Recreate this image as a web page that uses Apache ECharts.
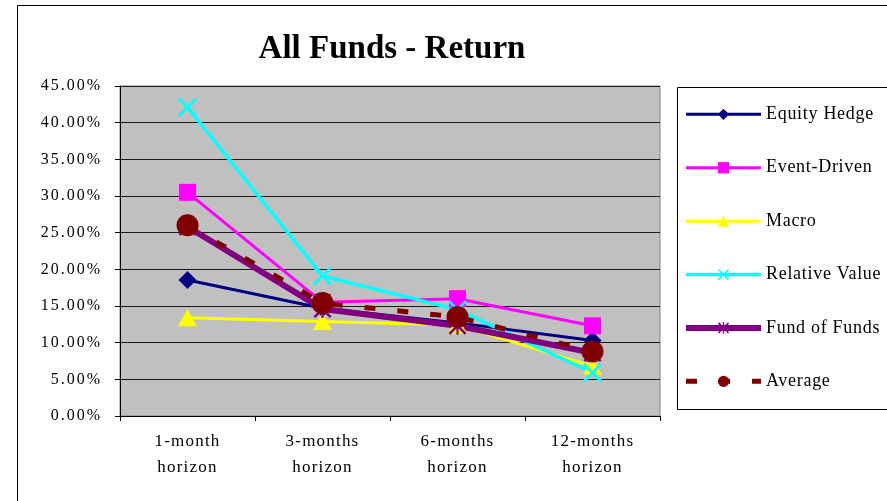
<!DOCTYPE html>
<html>
<head>
<meta charset="utf-8">
<script src="https://cdn.jsdelivr.net/npm/echarts@6/dist/echarts.min.js"></script>
<style>
  html, body { margin: 0; padding: 0; background: #fff; }
  #chart { width: 887px; height: 501px; }
</style>
</head>
<body>
<div id="chart"></div>
<script>
// Horizons on the x axis
const horizons = ['1-month\nhorizon', '3-months\nhorizon', '6-months\nhorizon', '12-months\nhorizon'];

// Returns in percent per horizon
const equityHedge   = [18.55, 14.7, 12.7, 10.3];
const eventDriven   = [30.5, 15.5, 16.0, 12.3];
const macro         = [13.4, 12.9, 12.4, 6.8];
const relativeValue = [42.1, 19.1, 14.5, 5.9];
const fundOfFunds   = [25.8, 14.6, 12.3, 8.6];
const average       = [26.0, 15.4, 13.5, 8.8];

// Y axis ticks (percent)
const yMin = 0, yMax = 45, yStep = 5;

// Wider tracking for the serif labels, keyed by font size
const tracking = { '16px': '2px', '17px': '1.2px', '18px': '0.7px' };
const fontDesc = Object.getOwnPropertyDescriptor(CanvasRenderingContext2D.prototype, 'font');
if (fontDesc && fontDesc.set) {
  Object.defineProperty(CanvasRenderingContext2D.prototype, 'font', {
    configurable: true,
    get() { return fontDesc.get.call(this); },
    set(v) {
      fontDesc.set.call(this, v);
      if ('letterSpacing' in this) {
        const m = /(\d+px)/.exec(v);
        this.letterSpacing = (!/bold/.test(v) && m && tracking[m[1]]) || '0px';
      }
    }
  });
}

const SERIF = '"Liberation Serif", "Times New Roman", serif';

// Marker shapes
const crossPath = 'path://M0,1L1,0L5,4L9,0L10,1L6,5L10,9L9,10L5,6L1,10L0,9L4,5Z';
const starPath = 'path://M0,1L1,0L5,4L9,0L10,1L6,5L10,9L9,10L5,6L1,10L0,9L4,5Z M4.4,0L5.6,0L5.6,10L4.4,10Z';

function lineSeries(name, data, color, symbol, size, width, extra) {
  return Object.assign({
    name, type: 'line', data,
    symbol, symbolSize: size,
    showSymbol: true,
    itemStyle: { color },
    lineStyle: { color, width },
    emphasis: { disabled: true },
    animation: false
  }, extra || {});
}

const chart = echarts.init(document.getElementById('chart'), null, { renderer: 'canvas' });
chart.setOption({
  backgroundColor: '#ffffff',
  animation: false,
  title: {
    text: 'All Funds - Return',
    left: 387, top: 28, textAlign: 'center',
    textStyle: { fontFamily: SERIF, fontWeight: 'bold', fontSize: 33, color: '#000' }
  },
  graphic: [
    { type: 'rect', shape: { x: 17.5, y: 5.5, width: 900, height: 600 },
      style: { fill: null, stroke: '#000', lineWidth: 1 }, silent: true, z: -1 },
    { type: 'rect', shape: { x: 677.5, y: 87.5, width: 260, height: 322 },
      style: { fill: '#fff', stroke: '#000', lineWidth: 1 }, silent: true, z: -1 }
  ],
  grid: {
    left: 120, right: 227, top: 86, bottom: 85,
    show: true, backgroundColor: '#C0C0C0', borderColor: '#808080', borderWidth: 1
  },
  legend: {
    orient: 'vertical', left: 683, top: 105,
    itemWidth: 75, itemHeight: 14, itemGap: 34.7, padding: 0,
    lineStyle: { width: 'inherit' },
    textStyle: { fontFamily: SERIF, fontSize: 18, color: '#000' },
    data: ['Equity Hedge', 'Event-Driven', 'Macro', 'Relative Value', 'Fund of Funds', 'Average']
  },
  xAxis: {
    type: 'category', data: horizons, boundaryGap: true,
    axisLine: { lineStyle: { color: '#000', width: 1 } },
    axisTick: { show: true, interval: 0, alignWithLabel: false, length: 5, lineStyle: { color: '#000' } },
    axisLabel: { interval: 0, margin: 13, fontFamily: SERIF, fontSize: 17, lineHeight: 26, color: '#000' },
    splitLine: { show: false }
  },
  yAxis: {
    type: 'value', min: yMin, max: yMax, interval: yStep,
    axisLine: { show: true, lineStyle: { color: '#000', width: 1 } },
    axisTick: { show: true, length: 5, lineStyle: { color: '#000' } },
    axisLabel: { margin: 18, fontFamily: SERIF, fontSize: 16, color: '#000',
      formatter: v => v.toFixed(2) + '%' },
    splitLine: { show: true, lineStyle: { color: '#1a1a1a', width: 1 } }
  },
  series: [
    lineSeries('Equity Hedge', equityHedge, '#000080', 'diamond', 18, 3),
    lineSeries('Event-Driven', eventDriven, '#FF00FF', 'rect', 17, 3),
    lineSeries('Macro', macro, '#FFFF00', 'triangle', [19, 17], 3),
    lineSeries('Relative Value', relativeValue, '#00FFFF', crossPath, 19, 3.5),
    lineSeries('Fund of Funds', fundOfFunds, '#800080', starPath, 18, 6),
    lineSeries('Average', average, '#800000', 'circle', 22, 5,
      { lineStyle: { color: '#800000', width: 5, type: [11, 22] } })
  ]
});
</script>
</body>
</html>
